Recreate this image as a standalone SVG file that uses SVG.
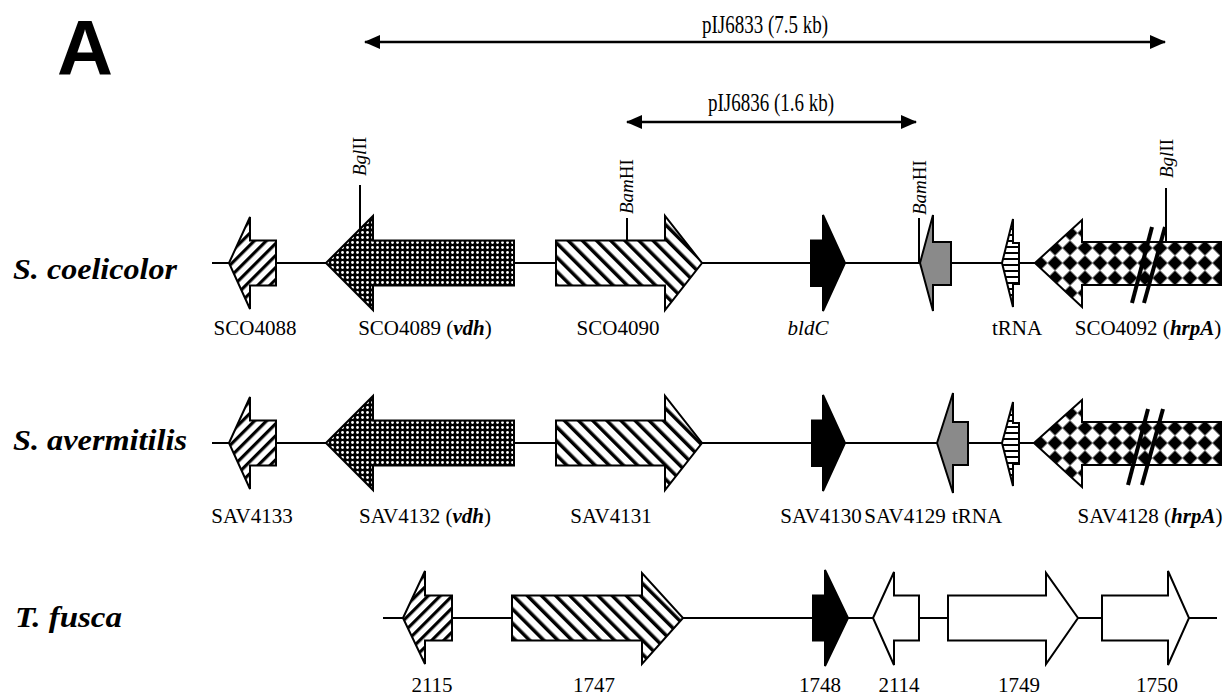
<svg xmlns="http://www.w3.org/2000/svg" width="1228" height="698" viewBox="0 0 1228 698">
<style>
.bb{stroke:#000;stroke-width:2;fill:none}
.g{stroke:#000;stroke-width:2;stroke-linejoin:miter}
.lbl{font-family:"Liberation Serif",serif;font-size:21px;fill:#000;text-anchor:middle}
.ttl{font-family:"Liberation Serif",serif;font-size:26px;fill:#000;text-anchor:middle}
.sp{font-family:"Liberation Serif",serif;font-size:30px;font-weight:bold;font-style:italic;fill:#000}
.site{font-family:"Liberation Serif",serif;font-size:19px;fill:#000}
.tick{stroke:#000;stroke-width:2}
.sl{stroke:#000;stroke-width:4}
.dim{stroke:#000;stroke-width:2.5}
.bi{font-weight:bold;font-style:italic}
</style>
<defs>
<pattern id="hUp" width="8.5" height="8.5" patternUnits="userSpaceOnUse" patternTransform="rotate(45)"><rect width="8.5" height="8.5" fill="#fff"/><rect width="3.2" height="8.5" fill="#000"/></pattern>
<pattern id="hDn" width="10" height="10" patternUnits="userSpaceOnUse" patternTransform="rotate(-45)"><rect width="10" height="10" fill="#fff"/><rect width="3.5" height="10" fill="#000"/></pattern>
<pattern id="dots" width="5" height="5" patternUnits="userSpaceOnUse"><rect width="5" height="5" fill="#000"/><circle cx="2.5" cy="2.5" r="1.4" fill="#fff"/></pattern>
<pattern id="hz" width="6" height="6" patternUnits="userSpaceOnUse"><rect width="6" height="6" fill="#fff"/><rect y="0" width="6" height="2" fill="#000"/></pattern>
<pattern id="chk" width="21.2" height="21.2" patternUnits="userSpaceOnUse" patternTransform="translate(1085,263) rotate(45)"><rect width="21.2" height="21.2" fill="#fff"/><rect x="-5.3" y="-5.3" width="10.6" height="10.6" fill="#000"/><rect x="15.9" y="-5.3" width="10.6" height="10.6" fill="#000"/><rect x="-5.3" y="15.9" width="10.6" height="10.6" fill="#000"/><rect x="15.9" y="15.9" width="10.6" height="10.6" fill="#000"/><rect x="5.3" y="5.3" width="10.6" height="10.6" fill="#000"/></pattern>
<pattern id="chk2" href="#chk" patternTransform="translate(1085,443) rotate(45)"/>
<marker id="ah" viewBox="0 0 16 14" refX="15" refY="7" markerWidth="16" markerHeight="14" markerUnits="userSpaceOnUse" orient="auto-start-reverse"><path d="M0,0 L16,7 L0,14 Z" fill="#000"/></marker>
</defs>

<text x="57" y="75" font-family="Liberation Sans,Arial,sans-serif" font-weight="bold" font-size="78" textLength="56" lengthAdjust="spacingAndGlyphs">A</text>

<g id="connectors">
<line class="dim" x1="365" y1="42" x2="1165" y2="42" marker-start="url(#ah)" marker-end="url(#ah)"/>
<line class="dim" x1="627" y1="122" x2="916" y2="122" marker-start="url(#ah)" marker-end="url(#ah)"/>
<line class="bb" x1="212" y1="263" x2="1220" y2="263"/>
<line class="bb" x1="212" y1="443" x2="1220" y2="443"/>
<line class="bb" x1="383" y1="618" x2="1217" y2="618"/>
<line class="tick" x1="360" y1="185" x2="360" y2="229"/>
<line class="tick" x1="627" y1="218" x2="627" y2="241"/>
<line class="tick" x1="919" y1="218" x2="919" y2="263"/>
<line class="tick" x1="1166" y1="188" x2="1166" y2="242"/>
</g>
<text class="ttl" x="765" y="33" textLength="126" lengthAdjust="spacingAndGlyphs">pIJ6833 (7.5 kb)</text>
<text class="ttl" x="771" y="111" textLength="126" lengthAdjust="spacingAndGlyphs">pIJ6836 (1.6 kb)</text>

<text class="site" transform="translate(366,176) rotate(-90)"><tspan font-style="italic">Bgl</tspan>II</text>
<text class="site" transform="translate(633,214) rotate(-90)"><tspan font-style="italic">Bam</tspan>HI</text>
<text class="site" transform="translate(926,215) rotate(-90)"><tspan font-style="italic">Bam</tspan>HI</text>
<text class="site" transform="translate(1173,178) rotate(-90)"><tspan font-style="italic">Bgl</tspan>II</text>

<text class="sp" x="13" y="279" textLength="164" lengthAdjust="spacingAndGlyphs">S. coelicolor</text>
<text class="sp" x="13" y="450" textLength="174" lengthAdjust="spacingAndGlyphs">S. avermitilis</text>
<text class="sp" x="15" y="627" textLength="107" lengthAdjust="spacingAndGlyphs">T. fusca</text>

<g id="SCO4088"><polygon class="g" fill="url(#hUp)" points="229,263 250,217 250,240.5 276,240.5 276,285.5 250,285.5 250,309"/><text class="lbl" x="255" y="335">SCO4088</text></g>
<g id="SCO4089"><polygon class="g" fill="url(#dots)" points="326,263 373,216 373,240.5 514,240.5 514,285.5 373,285.5 373,310"/><text class="lbl" x="425" y="335">SCO4089 (<tspan class="bi">vdh</tspan>)</text></g>
<g id="SCO4090"><polygon class="g" fill="url(#hDn)" points="556,240.5 665,240.5 665,216 702,263 665,310 665,285.5 556,285.5"/><text class="lbl" x="618" y="335">SCO4090</text></g>
<g id="bldC"><polygon class="g" fill="#000" points="811,240.5 823,240.5 823,215 845,263 823,311 823,286 811,286"/><text class="lbl" x="808" y="335" font-style="italic">bldC</text></g>
<g id="SCO4091"><polygon class="g" fill="#8a8a8a" points="920,263 933,215 933,242 951,242 951,285 933,285 933,311"/></g>
<g id="tRNA1"><polygon class="g" fill="url(#hz)" points="1002,263 1013,219 1013,243 1019,243 1019,284 1013,284 1013,307"/><text class="lbl" x="1017" y="335">tRNA</text></g>
<g id="SCO4092"><polygon class="g" fill="url(#chk)" points="1035,263 1082,220 1082,242 1221,242 1221,285 1082,285 1082,307"/><line class="sl" x1="1132" y1="303" x2="1152" y2="227"/><line class="sl" x1="1144" y1="303" x2="1165" y2="227"/><text class="lbl" x="1148" y="335">SCO4092 (<tspan class="bi">hrpA</tspan>)</text></g>

<g id="SAV4133"><polygon class="g" fill="url(#hUp)" points="229,443 250,397 250,420.5 276,420.5 276,465.5 250,465.5 250,489"/><text class="lbl" x="252" y="523">SAV4133</text></g>
<g id="SAV4132"><polygon class="g" fill="url(#dots)" points="326,443 373,396 373,420.5 514,420.5 514,465.5 373,465.5 373,490"/><text class="lbl" x="425" y="523">SAV4132 (<tspan class="bi">vdh</tspan>)</text></g>
<g id="SAV4131"><polygon class="g" fill="url(#hDn)" points="556,420.5 665,420.5 665,396 702,443 665,490 665,465.5 556,465.5"/><text class="lbl" x="611" y="523">SAV4131</text></g>
<g id="SAV4130"><polygon class="g" fill="#000" points="812,420.5 823,420.5 823,395 845,443 823,491 823,466 812,466"/><text class="lbl" x="821" y="523">SAV4130</text></g>
<g id="SAV4129"><polygon class="g" fill="#8a8a8a" points="937,443 953,393 953,422 968,422 968,465 953,465 953,493"/><text class="lbl" x="905" y="523">SAV4129</text></g>
<g id="tRNA2"><polygon class="g" fill="url(#hz)" points="1002,443 1013,402 1013,423 1019,423 1019,464 1013,464 1013,486"/><text class="lbl" x="977" y="523">tRNA</text></g>
<g id="SAV4128"><polygon class="g" fill="url(#chk2)" points="1034,443 1082,400 1082,422 1221,422 1221,465 1082,465 1082,487"/><line class="sl" x1="1128" y1="485" x2="1148" y2="409"/><line class="sl" x1="1142" y1="485" x2="1163" y2="409"/><text class="lbl" x="1150" y="523">SAV4128 (<tspan class="bi">hrpA</tspan>)</text></g>

<g id="T2115"><polygon class="g" fill="url(#hUp)" points="403,618 425,571 425,595.5 452,595.5 452,640.5 425,640.5 425,664"/><text class="lbl" x="432" y="692">2115</text></g>
<g id="T1747"><polygon class="g" fill="url(#hDn)" points="512,595.5 642,595.5 642,573 683,618 642,664 642,640.5 512,640.5"/><text class="lbl" x="594" y="692">1747</text></g>
<g id="T1748"><polygon class="g" fill="#000" points="813,595.5 825,595.5 825,570 848,618 825,666 825,640.5 813,640.5"/><text class="lbl" x="820" y="692">1748</text></g>
<g id="T2114"><polygon class="g" fill="#fff" points="873,618 894,572 894,595.5 919,595.5 919,640.5 894,640.5 894,665"/><text class="lbl" x="899" y="692">2114</text></g>
<g id="T1749"><polygon class="g" fill="#fff" points="948,595.5 1046,595.5 1046,573 1078,618 1046,664 1046,640.5 948,640.5"/><text class="lbl" x="1019" y="692">1749</text></g>
<g id="T1750"><polygon class="g" fill="#fff" points="1102,595.5 1168,595.5 1168,571 1189,618 1168,665 1168,640.5 1102,640.5"/><text class="lbl" x="1157" y="692">1750</text></g>
</svg>
